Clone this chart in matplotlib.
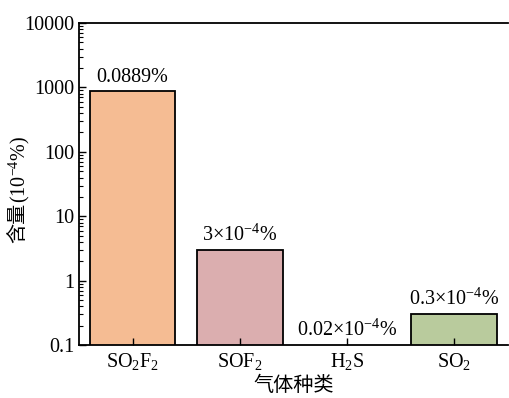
import matplotlib
matplotlib.use("Agg")
import matplotlib.pyplot as plt
from matplotlib.ticker import LogLocator, FuncFormatter, NullFormatter

plt.rcParams['font.family'] = ['Liberation Serif', 'Noto Sans CJK SC']
plt.rcParams['mathtext.fontset'] = 'custom'
plt.rcParams['mathtext.rm'] = 'Liberation Serif'
plt.rcParams['mathtext.it'] = 'Liberation Serif:italic'
plt.rcParams['mathtext.bf'] = 'Liberation Serif:bold'

gases = ['SO$_2$F$_2$', 'SOF$_2$', 'H$_2$S', 'SO$_2$']
values = [889, 3, 0.02, 0.3]
labels = ['0.0889%', '3×10$^{-4}$%', '0.02×10$^{-4}$%', '0.3×10$^{-4}$%']
colors = ['#F5BC93', '#DBAEAF', '#DBAEAF', '#B9CB9D']

fs = 14.5
fig = plt.figure(figsize=(5.09, 3.98), dpi=100)
ax = fig.add_axes([0.155, 0.133, 0.843, 0.809])

x = range(len(gases))
ax.bar(x, values, width=0.8, color=colors, edgecolor='black', linewidth=1.3)
for i, (v, t) in enumerate(zip(values, labels)):
    ax.annotate(t, (i, max(v, 0.1)), xytext=(0, 3), textcoords='offset points',
                ha='center', va='bottom', fontsize=fs)

ax.set_yscale('log')
ax.set_ylim(0.1, 10000)
ax.set_xlim(-0.5, 3.5)
ax.yaxis.set_major_locator(LogLocator(base=10, numticks=10))
ax.yaxis.set_minor_locator(LogLocator(base=10, subs=range(2, 10), numticks=20))
ax.yaxis.set_major_formatter(FuncFormatter(lambda v, p: '%g' % v))
ax.yaxis.set_minor_formatter(NullFormatter())
ax.set_xticks(list(x))
ax.set_xticklabels(gases)
ax.tick_params(axis='both', which='major', direction='in', length=5, width=1, labelsize=fs)
ax.tick_params(axis='y', which='minor', direction='in', length=3, width=0.8)
ax.tick_params(axis='x', which='major', length=5, pad=4)
for s in ax.spines.values():
    s.set_linewidth(1.3)
ax.spines['right'].set_visible(False)

# y label: Chinese part + mathtext part, stacked
t1 = fig.text(19 / 509, 1 - 243 / 398, '含量', rotation=90, ha='center', va='bottom',
              fontsize=fs)
ax.annotate('(10$^{-4}$%)', xy=(0.5, 1), xycoords=t1, rotation=90,
            ha='center', va='bottom', fontsize=fs, annotation_clip=False)
ax.set_xlabel('气体种类', fontsize=fs, labelpad=4)

fig.savefig('out.png', dpi=100)
